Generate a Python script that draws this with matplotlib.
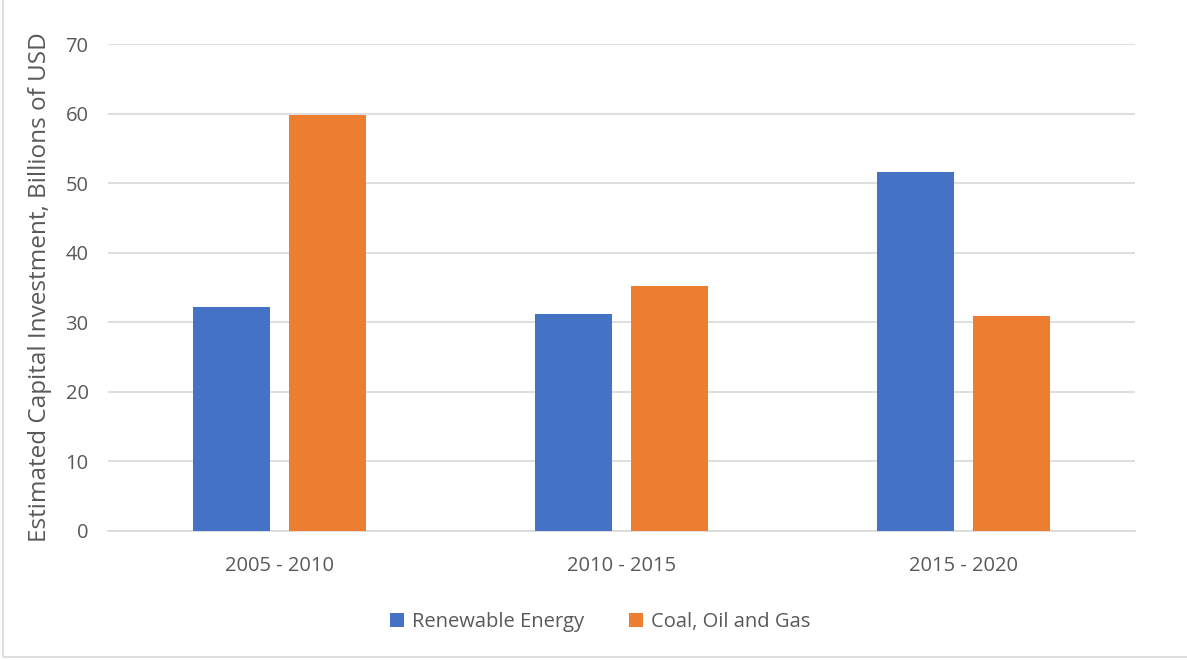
import numpy as np
import matplotlib.pyplot as plt
from matplotlib.patches import Rectangle

periods = ['2005 - 2010', '2010 - 2015', '2015 - 2020']
renewable = [32.2, 31.2, 51.6]
fossil = [59.8, 35.2, 30.9]

blue = '#4472C4'
orange = '#ED7D31'
text_gray = '#595959'

plt.rcParams['font.family'] = ['Open Sans', 'DejaVu Sans']

fig = plt.figure(figsize=(11.87, 6.60), dpi=100)
ax = fig.add_axes([108 / 1187, 1 - 531 / 660, (1135 - 108) / 1187, (531 - 44) / 660])

x = np.arange(len(periods))
w = 0.225
off = 0.14
ax.bar(x - off, renewable, w, color=blue, label='Renewable Energy', zorder=3)
ax.bar(x + off, fossil, w, color=orange, label='Coal, Oil and Gas', zorder=3)

ax.set_xlim(-0.5, 2.5)
ax.set_ylim(0, 70)
ax.set_yticks(range(0, 71, 10))
ax.set_xticks(x)
ax.set_xticklabels(periods)
ax.yaxis.grid(True, color='#D9D9D9', linewidth=1.2, zorder=0)
for s in ax.spines.values():
    s.set_visible(False)
ax.spines['bottom'].set_visible(True)
ax.spines['bottom'].set_color('#D9D9D9')
ax.spines['bottom'].set_linewidth(1.2)
ax.tick_params(axis='both', length=0, labelsize=14.5, colors=text_gray)
ax.tick_params(axis='x', pad=18)
ax.tick_params(axis='y', pad=14)
ax.set_ylabel('Estimated Capital Investment, Billions of USD', fontsize=17.5,
               color=text_gray)
ax.yaxis.set_label_coords(-56 / 1027, 0.5)

leg = fig.legend(loc='center', bbox_to_anchor=(600 / 1187, 1 - 622 / 660), ncol=2,
                 frameon=False, fontsize=14.5, handlelength=0.7, handleheight=0.7,
                 columnspacing=2.2, handletextpad=0.4)
for t in leg.get_texts():
    t.set_color(text_gray)

fig.patches.append(Rectangle((3 / 1187, 3 / 660), 1, 1, transform=fig.transFigure,
                             fill=False, edgecolor='#D9D9D9', linewidth=1.2))

fig.savefig('out.png', dpi=100)
